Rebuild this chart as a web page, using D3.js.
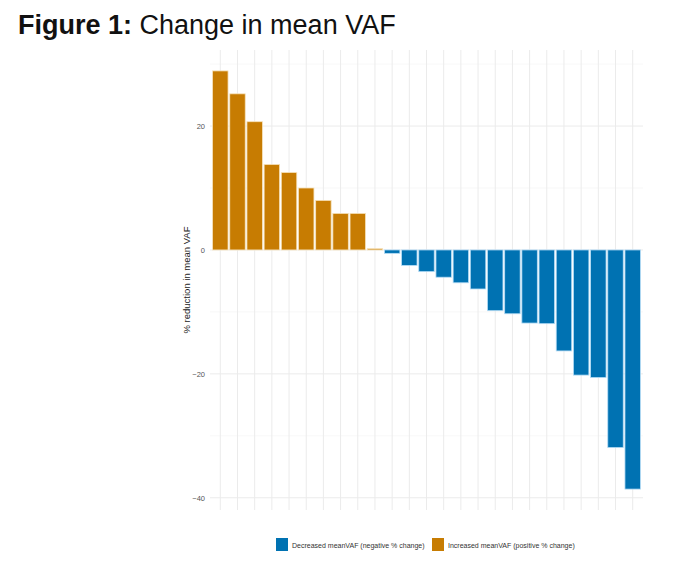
<!DOCTYPE html>
<html>
    <head>
        <title>Change in mean VAF</title>
        <style>
            body, html {
              margin: 0;
              padding: 0;
              background: #fff;
            }
        </style>
    </head>
    <body>

        <svg id="svg" width="680" height="565"></svg>

        <script src="https://d3js.org/d3.v7.min.js"></script>
        <script>
            // one bar per patient, sorted from biggest increase to biggest decrease
            const patients = d3.range(1, 26).map(String)
            const vafChange = [28.9, 25.2, 20.7, 13.8, 12.5, 10.0, 8.0, 5.9, 5.9, 0.2,
                               -0.55, -2.5, -3.5, -4.4, -5.3, -6.3, -9.8, -10.3, -11.8, -11.9,
                               -16.3, -20.2, -20.6, -31.9, -38.6]
            const yTicks = [-40, -20, 0, 20]
            const yMinor = [-30, -10, 10, 30]
            const legendLabels = ['Decreased meanVAF (negative % change)', 'Increased meanVAF (positive % change)']
            const legendColors = ['#0072B2', '#C77C02']

            const data = patients.map((p, i) => ({ id: p, value: vafChange[i] }))

            const margin = { top: 50, right: 37, bottom: 55, left: 210 }
            const width = 680 - (margin.left + margin.right)
            const height = 565 - (margin.top + margin.bottom)

            const svg = d3.select('#svg')

            // title
            const title = svg.append('text')
                .attr('x', 18)
                .attr('y', 34)
                .attr('font-family', 'Liberation Sans, Arial, sans-serif')
                .attr('font-size', 27)
                .attr('fill', '#111')
            title.append('tspan').attr('font-weight', 'bold').text('Figure 1:')
            title.append('tspan').text(' Change in mean VAF')

            // x scale (discrete, ggplot-like 0.6 expansion)
            const xscale = d3.scaleBand()
                .domain(patients)
                .range([margin.left, margin.left + width])
                .paddingInner(0.1)
                .paddingOuter(0.15)

            // y scale with 5% expansion
            const ext = d3.extent(vafChange)
            const pad = (ext[1] - ext[0]) * 0.05
            const yscale = d3.scaleLinear()
                .domain([ext[0] - pad, ext[1] + pad])
                .range([margin.top + height, margin.top])

            const grid = svg.append('g')

            // minor horizontal grid
            grid.selectAll('line.minor')
                .data(yMinor.filter(v => v >= yscale.domain()[0] && v <= yscale.domain()[1]))
                .enter()
                .append('line')
                .attr('x1', margin.left)
                .attr('x2', margin.left + width)
                .attr('y1', d => yscale(d))
                .attr('y2', d => yscale(d))
                .attr('stroke', '#f2f2f2')
                .attr('stroke-width', 0.6)

            // major horizontal grid
            grid.selectAll('line.major')
                .data(yTicks)
                .enter()
                .append('line')
                .attr('x1', margin.left)
                .attr('x2', margin.left + width)
                .attr('y1', d => yscale(d))
                .attr('y2', d => yscale(d))
                .attr('stroke', '#ebebeb')
                .attr('stroke-width', 1)

            // vertical grid at each bar
            grid.selectAll('line.vert')
                .data(patients)
                .enter()
                .append('line')
                .attr('x1', d => xscale(d) + xscale.bandwidth() / 2)
                .attr('x2', d => xscale(d) + xscale.bandwidth() / 2)
                .attr('y1', margin.top)
                .attr('y2', margin.top + height)
                .attr('stroke', '#ebebeb')
                .attr('stroke-width', 1)

            // bars
            svg.append('g')
                .selectAll('rect')
                .data(data)
                .enter()
                .append('rect')
                .attr('x', d => xscale(d.id))
                .attr('y', d => yscale(Math.max(0, d.value)))
                .attr('width', xscale.bandwidth())
                .attr('height', d => Math.abs(yscale(d.value) - yscale(0)))
                .attr('fill', d => d.value < 0 ? legendColors[0] : legendColors[1])
                .attr('stroke', d => d.value < 0 ? '#b5dcf5' : '#f6e2bb')
                .attr('stroke-width', 0.8)

            // left axis, labels only
            const leftAxis = d3.axisLeft(yscale)
                .tickValues(yTicks)
                .tickSize(0)
                .tickPadding(5)
            const yAxis = svg.append('g')
                .attr('transform', `translate(${margin.left}, 0)`)
                .call(leftAxis)
            yAxis.select('.domain').remove()
            yAxis.selectAll('text')
                .attr('font-family', 'Liberation Sans, Arial, sans-serif')
                .attr('font-size', 7.5)
                .attr('fill', '#555')
                .text(d => d < 0 ? '\u2212' + Math.abs(d) : d)

            // y label
            svg.append('text')
                .attr('transform', `translate(190, ${margin.top + height / 2}) rotate(-90)`)
                .attr('text-anchor', 'middle')
                .attr('font-family', 'Liberation Sans, Arial, sans-serif')
                .attr('font-size', 9.5)
                .attr('fill', '#222')
                .text('% reduction in mean VAF')

            // legend
            const legend = svg.append('g')
                .attr('font-family', 'Liberation Sans, Arial, sans-serif')
                .attr('font-size', 7)
                .attr('fill', '#333')
            const legendX = [276, 432]
            legendLabels.forEach((lab, i) => {
                legend.append('rect')
                    .attr('x', legendX[i])
                    .attr('y', 538)
                    .attr('width', 12)
                    .attr('height', 13)
                    .attr('fill', legendColors[i])
                legend.append('text')
                    .attr('x', legendX[i] + 16)
                    .attr('y', 547.5)
                    .text(lab)
            })
        </script>
    </body>
</html>
